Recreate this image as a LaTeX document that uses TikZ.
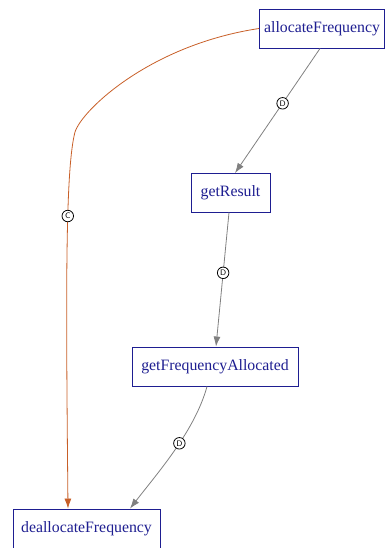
\documentclass[tikz,border=0pt]{standalone}
\usepackage{fontspec}
\setmainfont{Liberation Serif}
\usetikzlibrary{arrows.meta}
\definecolor{navy}{RGB}{30,30,145}
\definecolor{edgegray}{RGB}{128,128,128}
\definecolor{corange}{RGB}{200,95,40}
\tikzset{
  cls/.style={draw=navy, fill=white, text=navy, line width=0.9pt, inner sep=0pt,
    minimum height=39pt, font=\fontsize{15.8}{17}\selectfont},
  dep/.style={draw=edgegray, line width=0.8pt, -{Latex[length=10pt,width=7pt]}},
  crt/.style={draw=corange, line width=0.8pt, -{Latex[length=10pt,width=7pt]}},
  tag/.style={circle, draw=black, fill=white, line width=0.8pt, inner sep=0pt,
    minimum size=11.5pt, font=\fontsize{8}{8}\selectfont\sffamily},
}
\begin{document}
\begin{tikzpicture}[x=1pt,y=-1pt]
\useasboundingbox (0,0) rectangle (385,548);
\node[cls, minimum width=125pt] (alloc) at (322,28.5) {allocateFrequency};
\node[cls, minimum width=79pt] (res) at (230.5,193) {getResult};
\node[cls, minimum width=166pt] (gfa) at (215,366.5) {getFrequencyAllocated};
\node[cls, minimum width=147pt] (dealloc) at (86.5,528.5) {deallocateFrequency};
\draw[dep] (320,48.5) -- node[tag, pos=0.44]{D} (res.north -| 235,0);
\draw[dep] (229,212.5) -- node[tag, pos=0.45]{D} (gfa.north -| 216,0);
\draw[dep] (207,386.5) .. controls (195,430) and (160,470) .. node[tag, pos=0.45]{D} (dealloc.north -| 130,0);
\draw[crt] (alloc.west) .. controls (150,45) and (82,110) .. (75,132)
  .. controls (65,170) and (66,300) .. node[tag, pos=0.385]{C} (dealloc.north -| 68,0);
\end{tikzpicture}
\end{document}
